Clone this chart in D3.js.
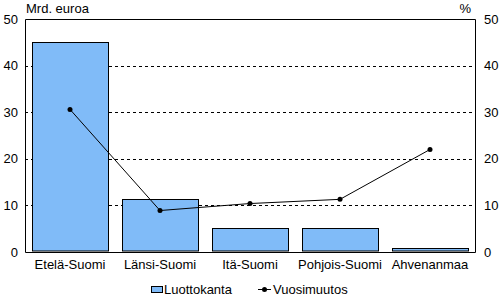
<!DOCTYPE html>
<html lang="fi">
<head>
    <meta charset="UTF-8">
    <title>Luottokanta alueittain</title>
    <script src="https://d3js.org/d3.v7.min.js"></script>
    <style>
        body { margin: 0; background: #fff; }
        svg text { font-family: "Liberation Sans", Arial, sans-serif; font-size: 13px; fill: #000; }
    </style>
</head>
<body>
    <svg id="chart" width="500" height="298"></svg>

    <script>
        // Data
        const regions = ["Etelä-Suomi", "Länsi-Suomi", "Itä-Suomi", "Pohjois-Suomi", "Ahvenanmaa"];
        const luottokanta = [45.0, 11.3, 5.1, 5.1, 0.8];   // Mrd. euroa
        const vuosimuutos = [30.6, 8.9, 10.4, 11.3, 22.0];  // %
        const leftTicks = [0, 10, 20, 30, 40, 50];
        const rightTicks = [0, 10, 20, 30, 40, 50];

        const margin = {top: 19, right: 25, bottom: 46, left: 25};
        const width = 500 - margin.left - margin.right;
        const height = 298 - margin.top - margin.bottom;
        const font = "Liberation Sans, Arial, sans-serif";

        const svg = d3.select("#chart")
                      .append("g")
                      .attr("transform", `translate(${margin.left},${margin.top})`);

        // Skaalat
        const x = d3.scaleBand()
                    .domain(regions)
                    .range([0, width])
                    .paddingInner(0.16)
                    .paddingOuter(0.08);
        const yLeft = d3.scaleLinear().domain([0, 50]).range([height, 0]);
        const yRight = d3.scaleLinear().domain([0, 50]).range([height, 0]);

        // Katkoviivat
        svg.append("g")
           .selectAll("line")
           .data(leftTicks.filter(d => d > 0 && d < 50))
           .join("line")
           .attr("x1", 0)
           .attr("x2", width)
           .attr("y1", d => Math.round(yLeft(d)) + 0.5)
           .attr("y2", d => Math.round(yLeft(d)) + 0.5)
           .attr("stroke", "#000")
           .attr("stroke-dasharray", "3,3");

        // Pylväät
        svg.selectAll("rect.bar")
           .data(regions)
           .join("rect")
           .attr("class", "bar")
           .attr("x", d => Math.round(x(d)) + 0.5)
           .attr("y", (d, i) => Math.round(yLeft(luottokanta[i])) + 0.5)
           .attr("width", Math.round(x.bandwidth()))
           .attr("height", (d, i) => height - Math.round(yLeft(luottokanta[i])) - 1.5)
           .attr("fill", "#80bbf8")
           .attr("stroke", "#000");

        // Kehys
        svg.append("path")
           .attr("d", `M0.5,0.5 H${width + 0.5} V${height + 0.5} H0.5 Z`)
           .attr("fill", "none")
           .attr("stroke", "#000");

        // Vasen akseli
        const axL = svg.append("g")
           .call(d3.axisLeft(yLeft).tickValues(leftTicks).tickSize(0).tickPadding(7));
        axL.select(".domain").remove();
        axL.selectAll("text").style("font-size", "13px").style("font-family", font);

        // Oikea akseli
        const axR = svg.append("g")
           .attr("transform", `translate(${width},0)`)
           .call(d3.axisRight(yRight).tickValues(rightTicks).tickSize(0).tickPadding(9));
        axR.select(".domain").remove();
        axR.selectAll("text").style("font-size", "13px").style("font-family", font);

        // Luokka-akseli
        const axB = svg.append("g")
           .attr("transform", `translate(0,${height})`)
           .call(d3.axisBottom(x).tickSize(0).tickPadding(8));
        axB.select(".domain").remove();
        axB.selectAll("text").style("font-size", "13px").style("font-family", font);

        // Viiva
        const line = d3.line()
                       .x((d, i) => x(regions[i]) + x.bandwidth() / 2)
                       .y(d => yRight(d));

        svg.append("path")
           .datum(vuosimuutos)
           .attr("fill", "none")
           .attr("stroke", "#000")
           .attr("stroke-width", 1)
           .attr("d", line);

        svg.selectAll("circle.dot")
           .data(vuosimuutos)
           .join("circle")
           .attr("class", "dot")
           .attr("cx", (d, i) => x(regions[i]) + x.bandwidth() / 2)
           .attr("cy", d => yRight(d))
           .attr("r", 2.5)
           .attr("fill", "#000");

        // Akselien otsikot
        svg.append("text")
           .attr("x", 1)
           .attr("y", -6)
           .text("Mrd. euroa");

        svg.append("text")
           .attr("x", width - 4)
           .attr("y", -6)
           .attr("text-anchor", "end")
           .text("%");

        // Selite
        const legend = svg.append("g")
           .attr("transform", `translate(${151 - margin.left},${286 - margin.top})`);

        legend.append("rect")
           .attr("x", 0.5).attr("y", 0.5)
           .attr("width", 11).attr("height", 6)
           .attr("fill", "#80bbf8")
           .attr("stroke", "#000");
        legend.append("text")
           .attr("x", 13).attr("y", 8)
           .text("Luottokanta");

        legend.append("line")
           .attr("x1", 107).attr("x2", 120)
           .attr("y1", 3.5).attr("y2", 3.5)
           .attr("stroke", "#000");
        legend.append("circle")
           .attr("cx", 113.5).attr("cy", 3.5).attr("r", 2.5)
           .attr("fill", "#000");
        legend.append("text")
           .attr("x", 122).attr("y", 8)
           .text("Vuosimuutos");
    </script>
</body>
</html>
